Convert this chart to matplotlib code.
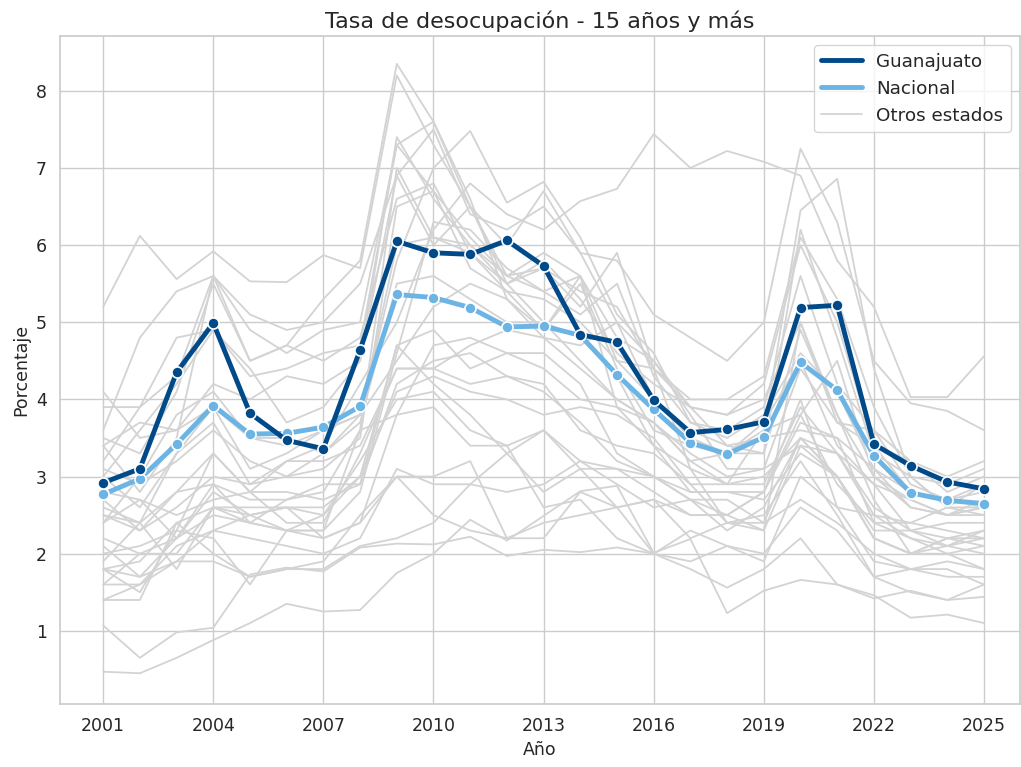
import numpy as np
import pandas as pd
import matplotlib.pyplot as plt
import seaborn as sns

# años
anios = list(range(2001, 2026))

# Guanajuato y nacional
guanajuato = [2.92, 3.10, 4.35, 4.99, 3.82, 3.47, 3.36, 4.64, 6.05, 5.90, 5.88, 6.06, 5.73,
              4.84, 4.74, 3.99, 3.57, 3.61, 3.71, 5.19, 5.22, 3.42, 3.14, 2.93, 2.84]
nacional = [2.77, 2.97, 3.42, 3.92, 3.55, 3.56, 3.64, 3.91, 5.36, 5.32, 5.19, 4.94, 4.95,
            4.83, 4.32, 3.87, 3.44, 3.29, 3.51, 4.48, 4.12, 3.27, 2.79, 2.69, 2.65]

# resto de los estados (valores aproximados)
otros = {
    "Coahuila": [5.2, 6.12, 5.56, 5.92, 5.53, 5.52, 5.87, 5.7, 8.2, 7.3, 6.5, 6.0, 6.7, 5.9, 5.0, 4.5, 3.9, 3.8, 4.2, 6.0, 5.0, 3.4, 2.8, 2.7, 2.9],
    "Chihuahua": [3.6, 4.8, 5.4, 5.6, 4.5, 4.7, 5.3, 5.8, 8.35, 7.6, 6.5, 5.5, 5.0, 4.5, 4.0, 3.7, 3.3, 3.0, 3.1, 3.4, 3.3, 2.6, 2.3, 2.2, 2.1],
    "Tabasco": [2.5, 2.3, 2.6, 3.0, 2.9, 3.2, 3.4, 4.2, 5.0, 6.2, 6.8, 6.4, 6.2, 6.57, 6.73, 7.44, 7.0, 7.22, 7.08, 6.9, 5.8, 5.2, 4.03, 4.03, 4.56],
    "CDMX": [3.9, 3.9, 4.3, 5.6, 5.1, 4.9, 5.0, 5.5, 6.9, 7.5, 6.4, 6.2, 6.5, 5.9, 5.8, 5.1, 4.8, 4.5, 5.0, 7.25, 6.3, 4.5, 3.95, 3.85, 3.6],
    "Mexico": [3.5, 3.3, 4.1, 5.5, 4.5, 4.7, 4.5, 4.8, 6.6, 6.8, 5.9, 5.5, 5.7, 5.4, 5.2, 4.4, 4.0, 4.0, 4.3, 6.1, 5.3, 3.9, 3.0, 2.9, 3.1],
    "Queretaro": [3.0, 3.6, 4.2, 4.9, 4.4, 3.7, 3.9, 4.5, 7.4, 6.6, 6.0, 5.5, 5.8, 5.3, 4.6, 4.2, 3.9, 3.4, 3.3, 6.2, 4.8, 3.3, 3.0, 2.6, 2.9],
    "Nuevo Leon": [3.2, 3.9, 4.8, 4.9, 4.3, 4.4, 4.6, 4.7, 7.3, 6.7, 6.1, 5.6, 5.4, 5.1, 5.5, 4.3, 3.7, 3.6, 3.9, 5.6, 4.2, 3.6, 3.2, 2.8, 3.0],
    "Aguascalientes": [3.4, 2.8, 3.5, 5.6, 4.9, 4.6, 4.9, 5.0, 7.3, 7.6, 6.6, 5.3, 4.9, 5.5, 4.4, 3.6, 3.4, 3.3, 3.3, 4.9, 3.8, 3.0, 2.7, 2.5, 2.5],
    "Tamaulipas": [2.4, 3.0, 3.8, 4.1, 3.5, 3.4, 3.6, 3.8, 5.8, 7.0, 7.48, 6.55, 6.82, 6.1, 5.1, 4.6, 3.7, 3.5, 3.8, 4.6, 4.1, 3.1, 2.6, 2.5, 2.6],
    "Sonora": [3.4, 3.7, 3.6, 3.9, 3.1, 3.3, 3.6, 3.8, 6.0, 6.1, 6.0, 5.6, 5.7, 5.2, 5.9, 4.4, 3.9, 3.8, 4.0, 5.0, 3.7, 3.6, 2.9, 2.7, 2.8],
    "Durango": [3.0, 2.6, 3.3, 3.7, 2.9, 3.0, 3.1, 3.5, 6.5, 6.7, 5.7, 5.4, 5.3, 5.0, 4.5, 4.0, 3.5, 3.3, 3.7, 4.5, 3.4, 2.9, 2.7, 2.5, 2.6],
    "Baja California": [1.8, 1.5, 2.3, 2.2, 1.6, 2.3, 2.3, 3.6, 7.0, 6.1, 5.9, 5.4, 4.9, 5.6, 3.9, 3.4, 2.8, 2.8, 2.8, 4.0, 2.6, 2.5, 2.2, 2.1, 2.3],
    "Jalisco": [2.6, 2.4, 3.3, 3.9, 3.5, 3.5, 3.3, 3.7, 5.5, 5.6, 5.3, 5.0, 5.0, 4.8, 4.3, 3.4, 3.1, 2.9, 2.9, 3.9, 3.3, 2.9, 2.3, 2.4, 2.4],
    "Tlaxcala": [4.1, 3.5, 3.6, 4.2, 4.0, 4.3, 4.2, 4.5, 6.9, 6.0, 6.5, 5.6, 5.9, 5.6, 4.8, 4.5, 3.8, 3.1, 3.1, 4.4, 3.7, 3.4, 3.2, 3.0, 3.2],
    "Sinaloa": [3.1, 2.9, 3.2, 3.6, 3.2, 3.0, 3.3, 3.8, 4.5, 5.2, 5.5, 5.3, 4.8, 4.7, 5.0, 4.0, 3.6, 3.4, 3.5, 3.6, 3.5, 3.1, 2.8, 2.7, 2.6],
    "Colima": [2.8, 2.7, 2.5, 2.7, 2.8, 3.2, 3.2, 3.4, 4.4, 4.4, 4.7, 4.9, 4.8, 4.4, 4.0, 3.7, 3.2, 3.3, 3.6, 3.8, 4.5, 3.0, 2.6, 2.5, 2.7],
    "Zacatecas": [2.2, 2.0, 2.0, 2.6, 2.5, 2.6, 2.5, 3.0, 4.7, 4.9, 4.4, 4.6, 4.4, 4.0, 3.9, 3.7, 3.2, 2.9, 3.0, 3.5, 3.3, 2.5, 2.4, 2.3, 2.2],
    "Morelos": [1.9, 2.4, 1.8, 2.6, 2.4, 2.3, 2.5, 3.2, 4.0, 4.1, 3.6, 3.4, 3.6, 3.1, 3.1, 2.8, 2.5, 2.5, 2.3, 3.4, 3.0, 2.2, 2.0, 2.1, 2.2],
    "Puebla": [2.0, 2.1, 2.3, 3.3, 2.8, 2.4, 2.4, 3.3, 4.4, 4.4, 4.2, 4.3, 4.2, 3.6, 3.4, 3.3, 2.9, 2.4, 2.4, 3.5, 3.0, 2.2, 2.0, 2.2, 2.2],
    "Quintana Roo": [1.8, 1.9, 2.4, 2.6, 2.6, 2.6, 2.6, 3.0, 4.1, 4.3, 4.1, 4.0, 3.8, 3.9, 3.8, 3.5, 2.9, 2.9, 3.6, 6.45, 6.86, 4.4, 3.0, 2.6, 2.5],
    "San Luis Potosi": [2.5, 2.4, 2.8, 3.3, 2.8, 2.8, 2.7, 2.9, 4.7, 4.2, 3.8, 3.3, 3.6, 3.2, 2.9, 2.6, 2.7, 2.5, 2.8, 3.8, 2.9, 2.4, 2.2, 2.0, 1.8],
    "Baja California Sur": [2.7, 2.3, 2.8, 2.9, 2.4, 2.3, 2.3, 2.8, 4.6, 6.3, 6.2, 5.7, 5.4, 5.6, 4.5, 4.4, 3.1, 2.4, 2.3, 5.0, 3.8, 2.7, 2.0, 2.0, 2.1],
    "Hidalgo": [1.6, 2.0, 2.2, 2.9, 2.7, 2.7, 2.9, 2.9, 4.2, 4.5, 4.6, 4.3, 4.1, 3.7, 3.2, 3.0, 2.7, 2.3, 2.6, 3.5, 3.0, 2.3, 2.3, 2.1, 2.0],
    "Veracruz": [1.6, 1.6, 2.1, 2.3, 2.2, 2.1, 2.0, 2.2, 3.1, 2.9, 2.9, 2.8, 2.9, 3.2, 3.1, 3.0, 2.7, 2.7, 2.4, 2.7, 2.4, 2.0, 1.8, 1.9, 1.8],
    "Michoacan": [1.8, 1.7, 1.9, 2.3, 2.5, 2.3, 2.2, 2.4, 3.8, 3.9, 3.4, 3.4, 2.6, 2.7, 2.2, 2.0, 2.3, 2.1, 1.9, 3.0, 2.6, 1.9, 1.8, 1.7, 1.7],
    "Yucatan": [1.4, 1.4, 2.4, 2.0, 1.7, 1.8, 1.9, 2.5, 3.0, 3.0, 3.2, 2.2, 2.4, 2.5, 2.6, 2.0, 1.9, 2.1, 2.0, 2.6, 2.3, 1.7, 1.5, 1.4, 1.6],
    "Campeche": [2.1, 1.7, 2.2, 2.8, 2.5, 2.6, 2.2, 2.4, 3.0, 2.5, 2.3, 2.2, 2.2, 2.8, 2.6, 2.7, 2.5, 2.5, 2.8, 3.7, 3.5, 2.4, 2.4, 2.6, 2.6],
    "Nayarit": [2.4, 2.7, 2.2, 2.5, 2.4, 2.7, 2.8, 3.6, 3.8, 4.7, 4.8, 4.6, 4.6, 4.2, 3.3, 3.0, 2.8, 2.8, 2.7, 3.3, 3.0, 2.2, 2.0, 2.2, 2.3],
    "Chiapas": [1.4, 1.6, 1.9, 1.9, 1.7, 1.8, 1.8, 2.1, 2.2, 2.4, 2.9, 3.3, 2.8, 3.1, 2.6, 2.7, 2.2, 2.4, 2.5, 3.2, 2.5, 1.7, 1.8, 1.8, 1.6],
    "Oaxaca": [1.07, 0.65, 0.98, 1.04, 1.73, 1.82, 1.77, 2.08, 2.13, 2.12, 2.22, 1.97, 2.05, 2.02, 2.08, 2.0, 1.8, 1.56, 1.8, 2.2, 1.6, 1.42, 1.52, 1.40, 1.44],
    "Guerrero": [0.47, 0.45, 0.65, 0.88, 1.10, 1.35, 1.25, 1.27, 1.75, 2.0, 2.44, 2.17, 2.49, 2.81, 2.88, 2.01, 2.19, 1.23, 1.52, 1.66, 1.6, 1.46, 1.17, 1.21, 1.10],
}

sns.set_theme(style="whitegrid")

fig = plt.figure(figsize=(10.21, 7.67), dpi=100)
ax = fig.add_axes([0.059, 0.082, 0.94, 0.871])

primero = True
for estado, valores in otros.items():
    ax.plot(anios, valores, color="lightgray", linewidth=1.3, zorder=1,
            label="Otros estados" if primero else None)
    primero = False

ax.plot(anios, nacional, color="#6cb4e4", linewidth=3.5, marker="o", markersize=8,
        markeredgecolor="white", markeredgewidth=1.2, label="Nacional", zorder=3)
ax.plot(anios, guanajuato, color="#004a8a", linewidth=3.5, marker="o", markersize=8,
        markeredgecolor="white", markeredgewidth=1.2, label="Guanajuato", zorder=4)

ax.set_xlim(1999.83, 2025.98)
ax.set_ylim(0.05, 8.71)
ax.set_xticks(list(range(2001, 2026, 3)))
ax.set_yticks(list(range(1, 9)))
ax.tick_params(labelsize=12.5)
ax.set_title("Tasa de desocupación - 15 años y más", fontsize=16)
ax.set_xlabel("Año", fontsize=12.5)
ax.set_ylabel("Porcentaje", fontsize=12.5)

h, l = ax.get_legend_handles_labels()
orden = [l.index("Guanajuato"), l.index("Nacional"), l.index("Otros estados")]
ax.legend([h[i] for i in orden], [l[i] for i in orden], loc="upper right",
          fontsize=13.2, frameon=True, handlelength=2.2)
for linea in ax.get_legend().get_lines():
    if linea.get_label() != "Otros estados":
        linea.set_marker("")

fig.savefig("out.png", dpi=100)
